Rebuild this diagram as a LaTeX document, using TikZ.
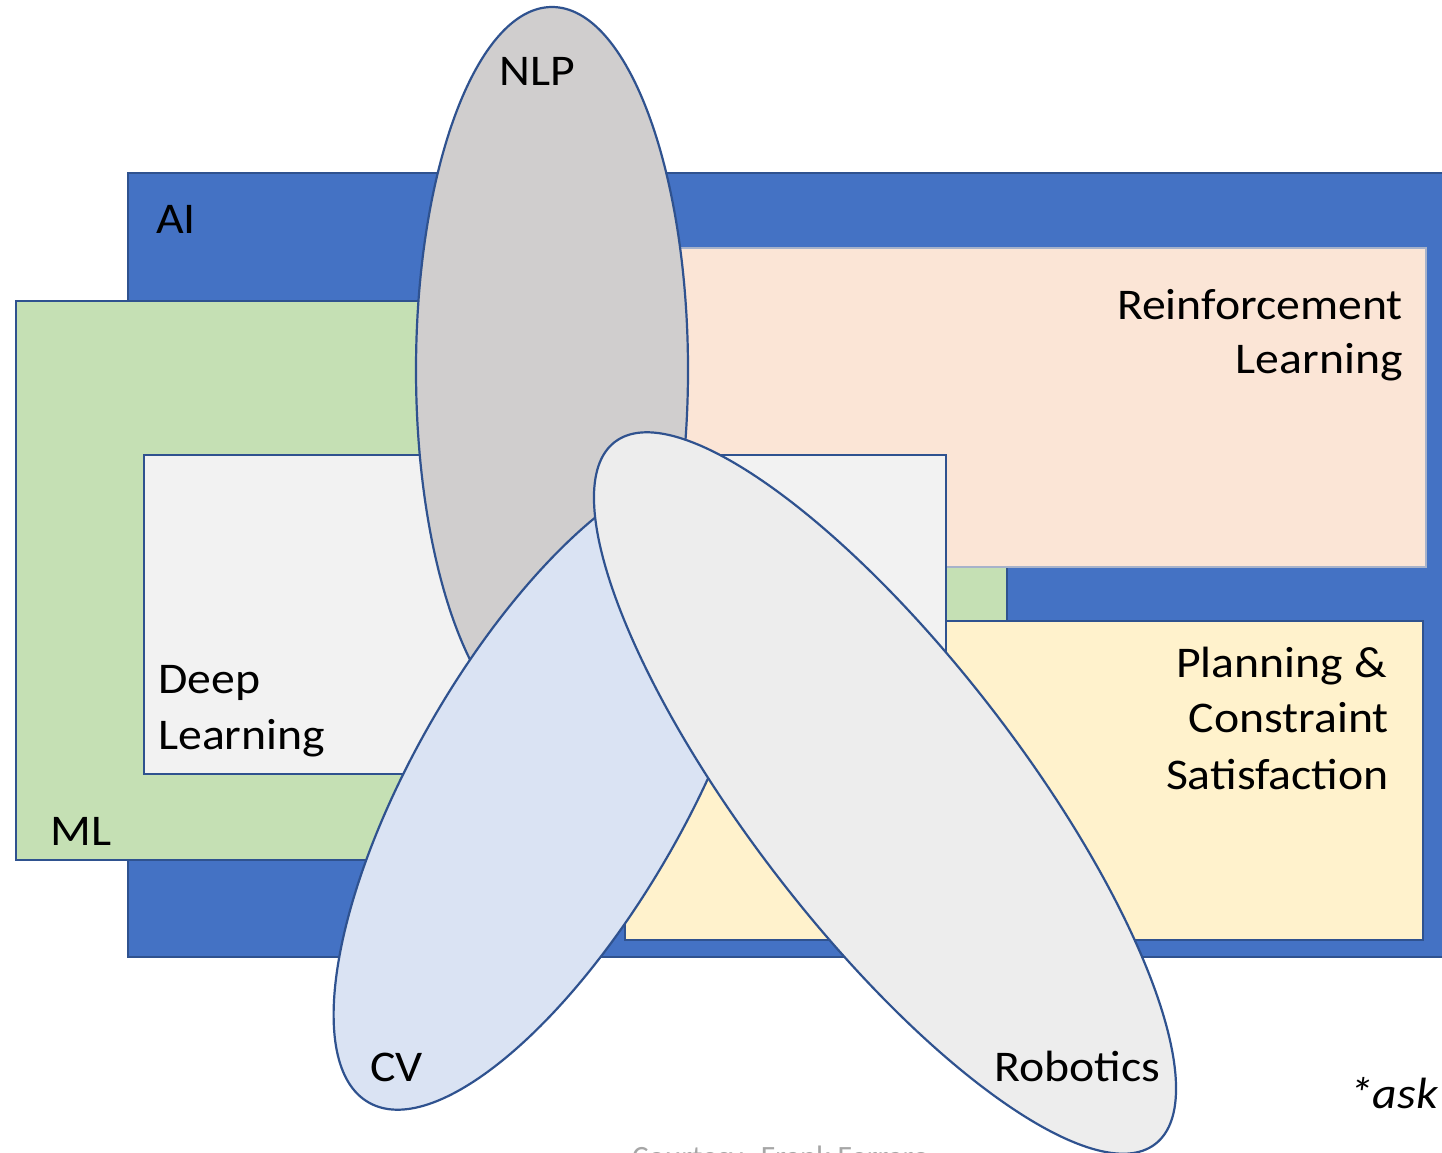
\documentclass[tikz,border=0pt]{standalone}
\usepackage{fontspec}
\setmainfont{Carlito}[FakeStretch=1.09]
\newfontfamily\courtfont{Carlito}
\definecolor{aiblue}{HTML}{4472C4}
\definecolor{edgeblue}{HTML}{2F528F}
\definecolor{mlgreen}{HTML}{C5E0B4}
\definecolor{rlpeach}{HTML}{FBE5D6}
\definecolor{rledge}{HTML}{A7B2CA}
\definecolor{dlgrey}{HTML}{F2F2F2}
\definecolor{plyellow}{HTML}{FFF2CC}
\definecolor{nlpgrey}{HTML}{D0CECE}
\definecolor{cvblue}{HTML}{DAE3F3}
\definecolor{robgrey}{HTML}{EDEDED}
\definecolor{courtgrey}{HTML}{A6A6A6}
\tikzset{
  box/.style={draw=edgeblue, line width=2pt},
  blob/.style={draw=edgeblue, line width=2.2pt},
  lbl/.style={inner sep=0pt, font=\fontsize{43.8}{52}\selectfont, text=black},
}
\begin{document}
\begin{tikzpicture}[x=1pt,y=-1pt]
\useasboundingbox (0,0) rectangle (1442,1152);
\fill[white] (0,0) rectangle (1442,1152);
% rectangles
\path[box, fill=aiblue] (128,173) rectangle (1460,957);
\path[box, fill=mlgreen] (16,301) rectangle (1007,860);
\path[draw=rledge, line width=1.2pt, fill=rlpeach] (676,248) rectangle (1426,567);
\path[box, fill=plyellow] (625,621) rectangle (1423,940);
\path[box, fill=dlgrey] (144,455) rectangle (946,774);
% ellipses
\path[blob, fill=nlpgrey] (552,370) ellipse [x radius=136pt, y radius=363pt];
\path[blob, fill=cvblue, rotate around={60:(550,788)}] (550,788) ellipse [x radius=363pt, y radius=136pt];
\path[blob, fill=robgrey, rotate around={-52.4:(885,793)}] (885,793) ellipse [x radius=443pt, y radius=136pt];
% labels
\node[lbl, anchor=base west] (ai) at (156,233) {AI};
\node[lbl, anchor=base west] (nlp) at (499,85) {NLP};
\node[lbl, anchor=base east] (rl1) at (1403,319) {Reinforcement};
\node[lbl, anchor=base east] (rl2) at (1403,373) {Learning};
\node[lbl, anchor=base east] (pl1) at (1387,677) {Planning \&};
\node[lbl, anchor=base east] (pl2) at (1389,732) {Constraint};
\node[lbl, anchor=base east] (pl3) at (1389,789) {Satisfaction};
\node[lbl, anchor=base west] (dl1) at (158,693) {Deep};
\node[lbl, anchor=base west] (dl2) at (158,749) {Learning};
\node[lbl, anchor=base west] (ml) at (50,845) {ML};
\node[lbl, anchor=base west] (cv) at (370,1081) {CV};
\node[lbl, anchor=base west] (rob) at (994,1081) {Robotics};
\node[lbl, anchor=base east, font=\fontsize{43.8}{52}\selectfont\itshape] (ask) at (1438,1108) {*ask};
\node[inner sep=0pt, anchor=base west, text=courtgrey, font=\courtfont\fontsize{31}{36}\selectfont] (court) at (632,1167) {Courtesy: Frank Ferraro};
\end{tikzpicture}
\end{document}
